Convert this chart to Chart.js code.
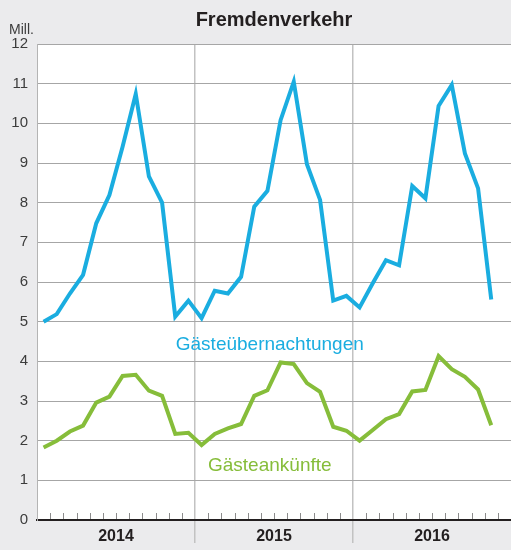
<!DOCTYPE html>
<html>
<head>
<meta charset="utf-8">
<title>Fremdenverkehr</title>
<script src="https://cdn.jsdelivr.net/npm/chart.js@4.4.1/dist/chart.umd.min.js"></script>
<style>
  html, body { margin: 0; padding: 0; background: #ebebed; }
  #chart { display: block; }
</style>
</head>
<body>
<canvas id="chart" width="511" height="550"></canvas>
<script>
// Jahre und Monate der x-Achse
var years = ['2014', '2015', '2016'];
var monthNames = ['Jan', 'Feb', 'Mär', 'Apr', 'Mai', 'Jun', 'Jul', 'Aug', 'Sep', 'Okt', 'Nov', 'Dez'];

// Werte in Mio., Jan 2014 bis Nov 2016
var uebernachtungen = [
  5.00, 5.19, 5.71, 6.18, 7.48, 8.19, 9.41, 10.74, 8.66, 8.00, 5.13, 5.53,
  5.09, 5.78, 5.71, 6.13, 7.90, 8.30, 10.08, 11.05, 8.97, 8.07, 5.53, 5.65,
  5.36, 5.97, 6.55, 6.42, 8.42, 8.11, 10.44, 10.97, 9.24, 8.36, 5.56
];
var ankuenfte = [
  1.83, 2.00, 2.23, 2.38, 2.96, 3.11, 3.63, 3.66, 3.26, 3.13, 2.17, 2.20,
  1.89, 2.17, 2.31, 2.42, 3.13, 3.27, 3.97, 3.93, 3.45, 3.23, 2.35, 2.25,
  2.00, 2.27, 2.54, 2.67, 3.24, 3.28, 4.13, 3.80, 3.61, 3.29, 2.39
];

var yTicks = [0, 1, 2, 3, 4, 5, 6, 7, 8, 9, 10, 11, 12];

var blau = '#1aade0';
var gruen = '#86bd3a';
var schrift = "'Liberation Sans', Arial, Helvetica, sans-serif";

var months = [];
years.forEach(function (y) {
  monthNames.forEach(function (m) { months.push(m + ' ' + y); });
});

// Beschriftungen der Linien (x als Monatsindex, y in Mio.)
var lineLabels = [
  { text: 'Gästeübernachtungen', color: blau, x: 17.18, y: 4.29 },
  { text: 'Gästeankünfte', color: gruen, x: 17.18, y: 1.24 }
];

// weisser Hintergrund der Zeichenfläche
const plotBackground = {
  id: 'plotBackground',
  beforeDraw(chart) {
    const a = chart.chartArea;
    const ctx = chart.ctx;
    ctx.save();
    ctx.fillStyle = '#ffffff';
    ctx.fillRect(a.left, a.top, a.right - a.left, a.bottom - a.top);
    ctx.restore();
  }
};

// kleine Monatsstriche über der Achse, Einheit und Linienbeschriftungen
const extras = {
  id: 'extras',
  afterDraw(chart) {
    const ctx = chart.ctx;
    const x = chart.scales.x;
    const y = chart.scales.y;
    const bottom = chart.chartArea.bottom;
    ctx.save();
    ctx.strokeStyle = '#8c8c8c';
    ctx.lineWidth = 1;
    for (let i = 1; i < months.length; i++) {
      if (i % 12 === 0) continue;
      const px = Math.round(x.getPixelForValue(i - 0.5)) + 0.5;
      ctx.beginPath();
      ctx.moveTo(px, bottom - 7);
      ctx.lineTo(px, bottom - 1);
      ctx.stroke();
    }

    ctx.fillStyle = '#3c3c3c';
    ctx.font = '14px ' + schrift;
    ctx.textAlign = 'left';
    ctx.textBaseline = 'alphabetic';
    ctx.fillText('Mill.', 9, 34);

    ctx.font = '19px ' + schrift;
    ctx.textAlign = 'center';
    lineLabels.forEach(function (l) {
      ctx.fillStyle = l.color;
      ctx.fillText(l.text, x.getPixelForValue(l.x), y.getPixelForValue(l.y));
    });
    ctx.restore();
  }
};

var ctx = document.getElementById('chart').getContext('2d');

var myChart = new Chart(ctx, {
  type: 'line',
  data: {
    labels: months,
    datasets: [{
      label: 'Gästeübernachtungen',
      data: uebernachtungen,
      borderColor: blau,
      borderWidth: 4,
      pointRadius: 0,
      tension: 0,
      fill: false
    }, {
      label: 'Gästeankünfte',
      data: ankuenfte,
      borderColor: gruen,
      borderWidth: 4,
      pointRadius: 0,
      tension: 0,
      fill: false
    }]
  },
  options: {
    responsive: false,
    animation: false,
    layout: { padding: 0 },
    plugins: {
      legend: { display: false },
      tooltip: { enabled: false },
      title: {
        display: true,
        text: 'Fremdenverkehr',
        fullSize: false,
        color: '#231f20',
        font: { family: schrift, size: 20, weight: 'bold' },
        padding: { top: 8, bottom: 12 }
      }
    },
    scales: {
      x: {
        type: 'category',
        offset: true,
        display: false
      },
      years: {
        type: 'category',
        position: 'bottom',
        labels: years,
        offset: true,
        grid: {
          offset: true,
          // nur Trennlinien zwischen den Jahren
          color: function (c) { return c.index === 1 || c.index === 2 ? '#c2c2c2' : 'rgba(0,0,0,0)'; },
          lineWidth: 1.5,
          tickLength: 23
        },
        border: { display: true, color: '#231f20', width: 2 },
        ticks: {
          color: '#231f20',
          padding: -16,
          maxRotation: 0,
          font: { family: schrift, size: 16, weight: 'bold' }
        },
        afterFit: function (s) { s.height = 30; }
      },
      y: {
        min: 0,
        max: 12,
        afterBuildTicks: function (s) {
          s.ticks = yTicks.map(function (v) { return { value: v }; });
        },
        grid: {
          drawTicks: false,
          color: function (c) { return c.tick && c.tick.value === 0 ? 'rgba(0,0,0,0)' : '#a6a6a6'; }
        },
        border: { display: true, color: '#b4b4b4', width: 1 },
        ticks: {
          color: '#3c3c3c',
          padding: 9,
          font: { family: schrift, size: 15 }
        },
        afterFit: function (s) { s.width = 37; }
      }
    }
  },
  plugins: [plotBackground, extras]
});
</script>
</body>
</html>
